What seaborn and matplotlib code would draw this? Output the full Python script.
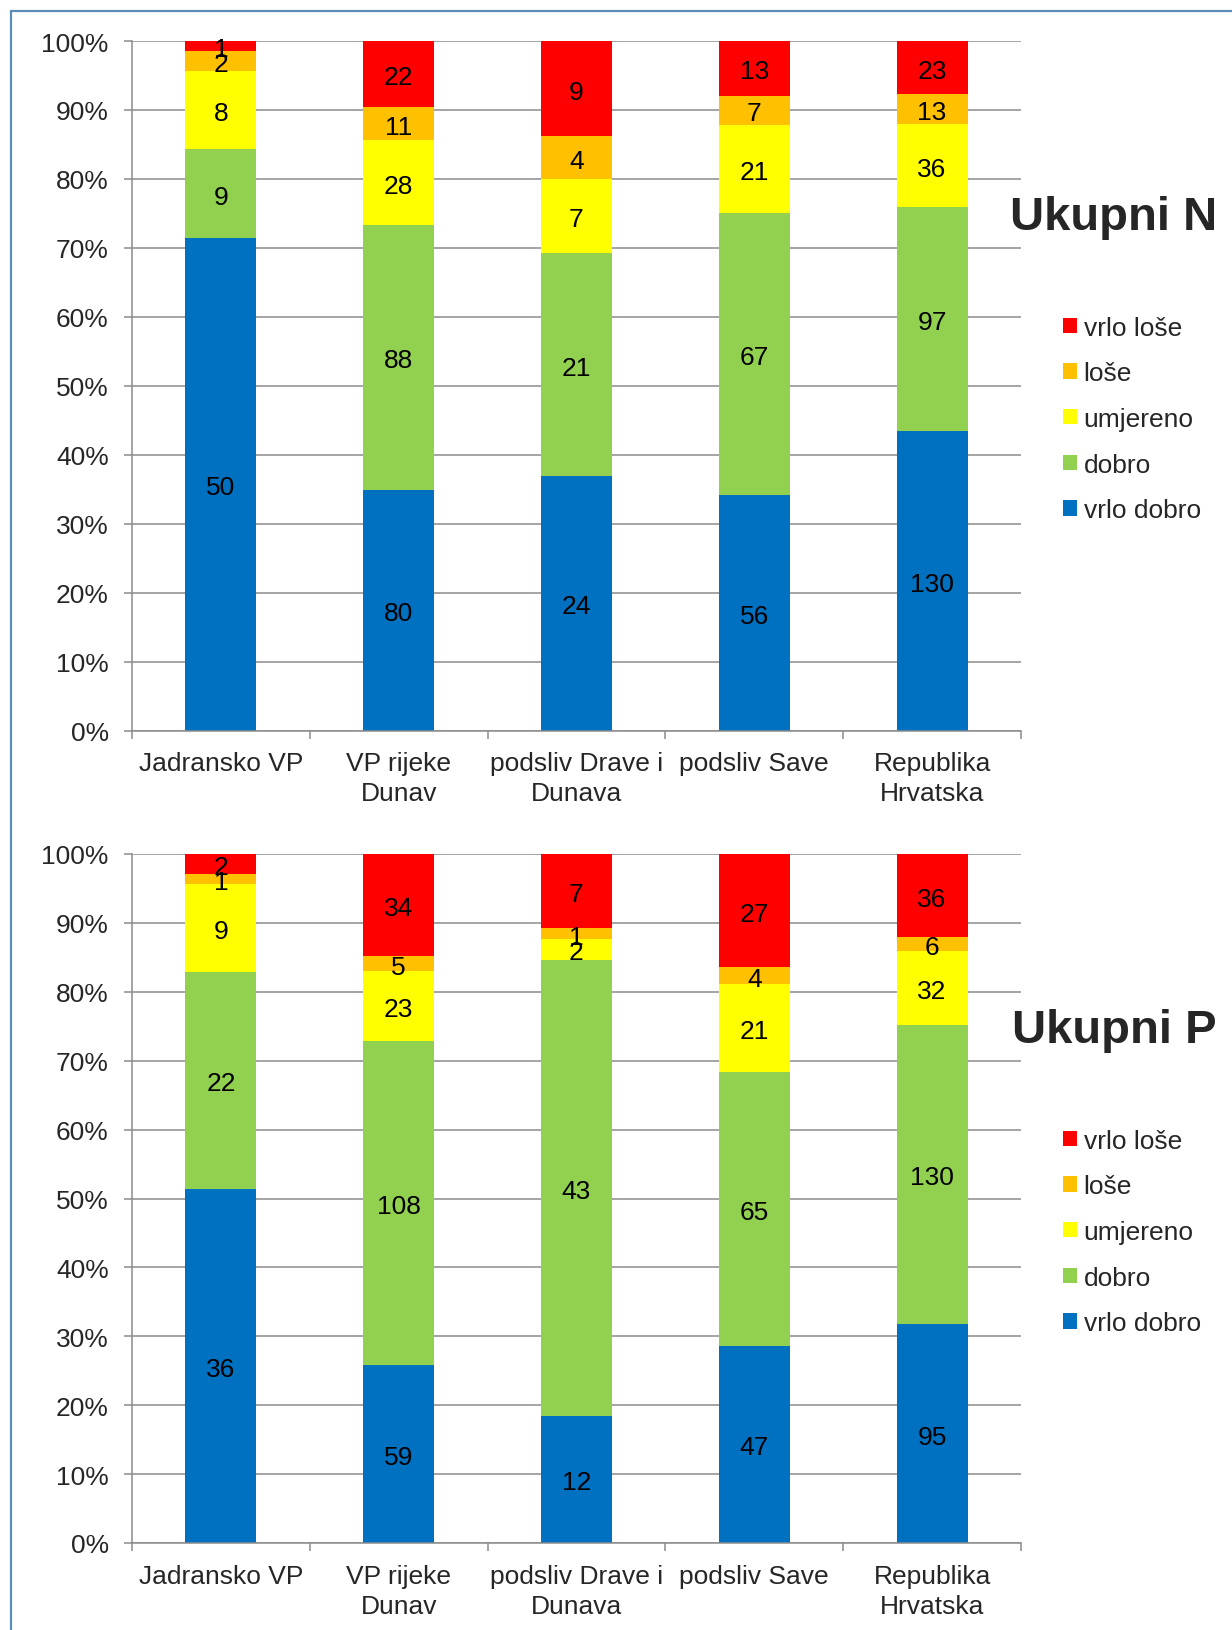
import numpy as np
import pandas as pd
import matplotlib
matplotlib.use("Agg")
import matplotlib.pyplot as plt
import matplotlib.transforms as mtransforms
import seaborn as sns
from matplotlib.patches import Patch
from matplotlib.lines import Line2D

# ---------------- data ----------------
categories = ["Jadransko VP", "VP rijeke\nDunav", "podsliv Drave i\nDunava",
              "podsliv Save", "Republika\nHrvatska"]
series = ["vrlo dobro", "dobro", "umjereno", "loše", "vrlo loše"]
colors = ["#0070C0", "#92D050", "#FFFF00", "#FFC000", "#FF0000"]

# Ukupni N
n_vrlo_dobro = [50, 80, 24, 56, 130]
n_dobro = [9, 88, 21, 67, 97]
n_umjereno = [8, 28, 7, 21, 36]
n_lose = [2, 11, 4, 7, 13]
n_vrlo_lose = [1, 22, 9, 13, 23]

# Ukupni P
p_vrlo_dobro = [36, 59, 12, 47, 95]
p_dobro = [22, 108, 43, 65, 130]
p_umjereno = [9, 23, 2, 21, 32]
p_lose = [1, 5, 1, 4, 6]
p_vrlo_lose = [2, 34, 7, 27, 36]

ytick_values = list(range(0, 101, 10))
ytick_labels = [f"{v}%" for v in ytick_values]

# ---------------- style ----------------
sns.set_style("white")
plt.rcParams["font.family"] = ["Liberation Sans", "DejaVu Sans"]
FS = 19
GRID = "#8C8C8C"

W, H = 1232, 1631
fig = plt.figure(figsize=(W / 100, H / 100), dpi=100)


def fx(px):
    return px / W


def fy(py):
    return 1 - py / H


def draw_panel(ax, counts, title, title_y, legend_y):
    df = pd.DataFrame(counts, index=series, columns=categories)
    pct = df / df.sum(axis=0) * 100
    cum = pct.cumsum(axis=0)
    ax.set_axisbelow(True)
    for i in reversed(range(len(series))):
        d = pd.DataFrame({"cat": categories, "val": cum.iloc[i].values})
        sns.barplot(data=d, x="cat", y="val", order=categories, color=colors[i],
                    saturation=1, width=0.4, errorbar=None, ax=ax,
                    linewidth=0, zorder=2)
    shift = mtransforms.offset_copy(ax.transData, fig=fig, x=0, y=-2.2,
                                    units="points")
    for i in range(len(series)):
        for j in range(len(categories)):
            yc = cum.iloc[i, j] - pct.iloc[i, j] / 2
            ax.text(j, yc, str(df.iloc[i, j]), ha="center", va="center",
                    fontsize=FS, color="black", zorder=5, transform=shift)
    ax.set_xlim(-0.5, len(categories) - 0.5)
    ax.set_ylim(0, 100)
    ax.set_yticks(ytick_values)
    ax.set_yticklabels(ytick_labels)
    ax.set_xlabel("")
    ax.set_ylabel("")
    ax.yaxis.grid(True, color=GRID, linewidth=1.1)
    ax.xaxis.grid(False)
    for s in ["top", "right"]:
        ax.spines[s].set_visible(False)
    for s in ["left", "bottom"]:
        ax.spines[s].set_color(GRID)
        ax.spines[s].set_linewidth(1.1)
    ax.tick_params(axis="y", which="major", length=5.8, width=1.1, color=GRID,
                   pad=11, labelsize=FS, left=True)
    ax.set_xticks(np.arange(len(categories)))
    ax.set_xticklabels(categories, linespacing=1.3)
    ax.set_xticks(np.arange(-0.5, len(categories)), minor=True)
    ax.tick_params(axis="x", which="major", length=0, pad=15, labelsize=FS)
    ax.tick_params(axis="x", which="minor", length=5.8, width=1.1, color=GRID,
                   bottom=True)

    fig.text(fx(1114), fy(title_y), title, ha="center", va="center",
             fontsize=34, fontweight="bold")
    handles = [Patch(facecolor=colors[i], edgecolor="none", label=series[i])
               for i in reversed(range(len(series)))]
    ax.legend(handles=handles, loc="center left",
              bbox_to_anchor=(fx(1063), fy(legend_y)),
              bbox_transform=fig.transFigure, frameon=False, fontsize=FS,
              handlelength=0.53, handleheight=0.53, handletextpad=0.25,
              labelspacing=0.82, borderpad=0, borderaxespad=0)


ax1 = fig.add_axes([fx(132), fy(731.5), fx(1021) - fx(132), (731.5 - 42) / H])
ax2 = fig.add_axes([fx(132), fy(1544), fx(1021) - fx(132), (1544 - 855) / H])

draw_panel(ax1, [n_vrlo_dobro, n_dobro, n_umjereno, n_lose, n_vrlo_lose],
           "Ukupni N", 218, 420)
draw_panel(ax2, [p_vrlo_dobro, p_dobro, p_umjereno, p_lose, p_vrlo_lose],
           "Ukupni P", 1031, 1233)

# frame lines of the original figure
border = "#5B8DB8"
fig.add_artist(Line2D([fx(10.5), fx(10.5)], [0, fy(11.5)], color=border,
                      linewidth=1.6, transform=fig.transFigure))
fig.add_artist(Line2D([fx(10.5), 1], [fy(11.5), fy(11.5)], color=border,
                      linewidth=1.6, transform=fig.transFigure))

fig.savefig("out.png", dpi=100)
